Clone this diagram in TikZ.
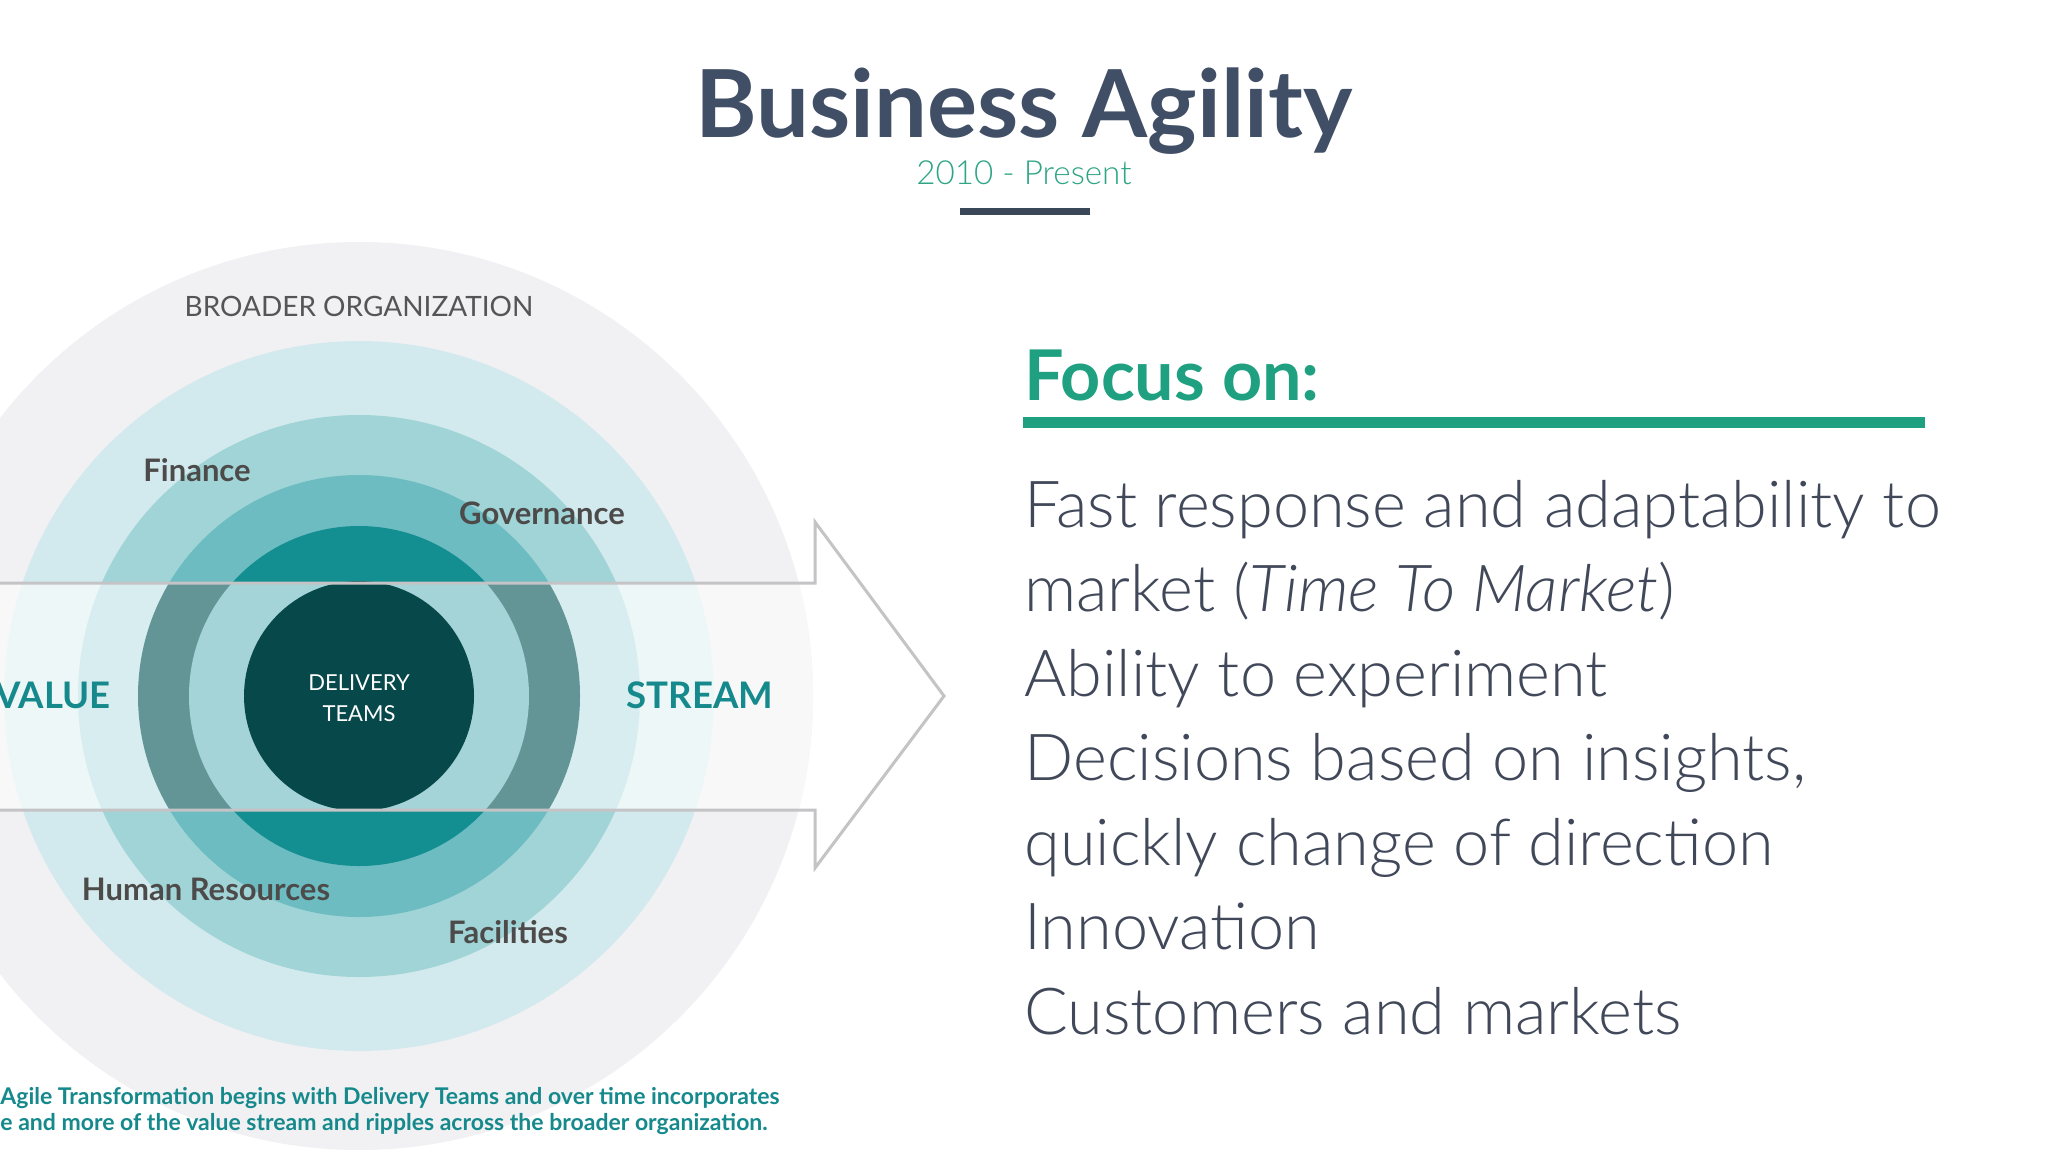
\documentclass[tikz,border=0pt]{standalone}
\usepackage{fontspec}
\setmainfont{Lato}
\newfontfamily\lightfont{Lato Light}
\newfontfamily\lightitfont{Lato Light Italic}
\definecolor{titlecol}{HTML}{414F66}
\definecolor{subcol}{HTML}{2EA585}
\definecolor{barcol}{HTML}{3A4759}
\definecolor{focuscol}{HTML}{1FA080}
\definecolor{bodycol}{HTML}{414859}
\definecolor{labelcol}{HTML}{4D4A4A}
\definecolor{broadcol}{HTML}{555555}
\definecolor{streamcol}{HTML}{15898C}
\definecolor{ringA}{HTML}{F1F1F3}
\definecolor{ringB}{HTML}{D2EAED}
\definecolor{ringC}{HTML}{A0D4D7}
\definecolor{ringD}{HTML}{6CBCC1}
\definecolor{ringE}{HTML}{138E91}
\definecolor{coreF}{HTML}{07484B}
\definecolor{bandA}{HTML}{F8F8F9}
\definecolor{bandB}{HTML}{EDF7F8}
\definecolor{bandC}{HTML}{D8EDF0}
\definecolor{bandD}{HTML}{649596}
\definecolor{bandE}{HTML}{A4D3D8}
\definecolor{arrowline}{HTML}{C4C4C6}
\tikzset{
  ringlabel/.style={font=\bfseries\fontsize{15.5pt}{18pt}\selectfont, text=labelcol, inner sep=0pt},
  bigteal/.style={font=\bfseries\fontsize{18.3pt}{22pt}\selectfont, text=streamcol, inner sep=0pt},
  bodyline/.style={font=\lightfont\fontsize{32.4pt}{40pt}\selectfont, text=bodycol, anchor=base west, inner sep=0pt},
  captionline/.style={font=\bfseries\fontsize{11.5pt}{13pt}\selectfont, text=streamcol, anchor=base west, inner sep=0pt}
}
\begin{document}
\begin{tikzpicture}[x=0.5pt,y=-0.5pt]
\useasboundingbox (0,0) rectangle (2048,1152);
\clip (0,0) rectangle (2048,1152);
\fill[white] (0,0) rectangle (2048,1152);
\coordinate (C) at (359,696);
% rings
\fill[ringA] (C) circle (454);
\fill[ringB] (C) circle (355);
\fill[ringC] (C) circle (281);
\fill[ringD] (C) circle (221);
\fill[ringE] (C) circle (170);
\fill[coreF] (C) circle (115);
% band colours
\begin{scope}
\clip (0,583) rectangle (815,810);
\fill[bandA] (C) circle (454);
\fill[bandB] (C) circle (355);
\fill[bandC] (C) circle (281);
\fill[bandD] (C) circle (221);
\fill[bandE] (C) circle (170);
\fill[coreF] (C) circle (115);
\end{scope}
% arrow outline
\draw[arrowline, line width=1.5pt, line join=miter]
  (0,583) -- (815,583) -- (815,522) -- (944,696) -- (815,868) -- (815,810) -- (0,810);
% diagram labels
\node[font=\fontsize{14pt}{17pt}\selectfont, text=broadcol, anchor=base, inner sep=0pt] (broad) at (359,316) {BROADER ORGANIZATION};
\node[ringlabel, anchor=base] (fin) at (197,481) {Finance};
\node[ringlabel, anchor=base] (gov) at (542,524) {Governance};
\node[ringlabel, anchor=base] (hr) at (206,900) {Human Resources};
\node[ringlabel, anchor=base] (fac) at (508,943) {Facilities};
\node[bigteal, anchor=base east] (value) at (111,708) {VALUE};
\node[bigteal, anchor=base] (stream) at (700,708) {STREAM};
\node[font=\fontsize{11pt}{13pt}\selectfont, text=white, anchor=base, inner sep=0pt] (deliv) at (359,690) {DELIVERY};
\node[font=\fontsize{11pt}{13pt}\selectfont, text=white, anchor=base, inner sep=0pt] (teams) at (359,721) {TEAMS};
\node[captionline] (cap1) at (0,1104) {Agile Transformation begins with Delivery Teams and over time incorporates};
\node[captionline] (cap2) at (0,1130) {e and more of the value stream and ripples across the broader organization.};
% title block
\node[font=\bfseries\fontsize{46.9pt}{56pt}\selectfont, text=titlecol, anchor=base, inner sep=0pt] (title) at (1024,137) {Business Agility};
\node[font=\lightfont\fontsize{16.6pt}{20pt}\selectfont, text=subcol, anchor=base, inner sep=0pt] (sub) at (1024,184) {2010 - Present};
\fill[barcol] (960,208) rectangle (1090,215);
% focus block
\node[font=\bfseries\fontsize{35pt}{42pt}\selectfont, text=focuscol, anchor=base west, inner sep=0pt] (focus) at (1024,400) {Focus on:};
\fill[focuscol] (1023,417) rectangle (1925,428);
\node[bodyline] (l1) at (1024,527) {Fast response and adaptability to};
\node[bodyline] (l2) at (1024,611.5) {market ({\lightitfont Time To Market})};
\node[bodyline] (l3) at (1024,696) {Ability to experiment};
\node[bodyline] (l4) at (1024,780.5) {Decisions based on insights,};
\node[bodyline] (l5) at (1024,865) {quickly change of direction};
\node[bodyline] (l6) at (1024,949.5) {Innovation};
\node[bodyline] (l7) at (1024,1034) {Customers and markets};
\end{tikzpicture}
\end{document}
